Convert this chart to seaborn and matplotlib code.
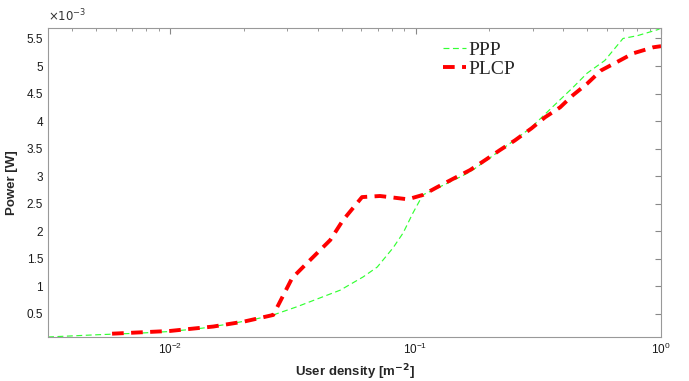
import numpy as np
import pandas as pd
import matplotlib
matplotlib.use("Agg")
import matplotlib.pyplot as plt
import matplotlib.ticker as mticker
import seaborn as sns

# user density [m^-2] and power [mW]
ppp_density = [0.00318, 0.005, 0.0075, 0.01, 0.0135, 0.0176, 0.022, 0.0263, 0.0329,
               0.0408, 0.0493, 0.0611, 0.0698, 0.081, 0.089, 0.0975, 0.107, 0.122,
               0.142, 0.167, 0.192, 0.22, 0.254, 0.297, 0.36, 0.4375, 0.50, 0.59,
               0.70, 0.80, 0.97, 1.0]
ppp_power = [0.08, 0.12, 0.15, 0.18, 0.24, 0.32, 0.40, 0.48, 0.63,
             0.79, 0.93, 1.17, 1.35, 1.70, 1.97, 2.33, 2.66, 2.78,
             2.92, 3.08, 3.27, 3.46, 3.66, 3.89, 4.25, 4.61, 4.87, 5.10,
             5.50, 5.55, 5.66, 5.69]

plcp_density = [0.0058, 0.01, 0.015, 0.02, 0.0263, 0.0314, 0.0348, 0.0449, 0.0506,
                0.0605, 0.0716, 0.093, 0.1072, 0.1224, 0.1419, 0.1666, 0.1918, 0.22,
                0.254, 0.297, 0.337, 0.388, 0.4375, 0.50, 0.57, 0.66, 0.77, 0.93, 1.0]
plcp_power = [0.14, 0.19, 0.27, 0.36, 0.48, 1.15, 1.35, 1.84, 2.2,
              2.62, 2.64, 2.58, 2.66, 2.80, 2.95, 3.11, 3.29, 3.47,
              3.65, 3.87, 4.07, 4.25, 4.47, 4.68, 4.92, 5.07, 5.23, 5.34, 5.36]

df = pd.concat([
    pd.DataFrame({"density": ppp_density, "power": np.array(ppp_power) * 1e-3, "model": "PPP"}),
    pd.DataFrame({"density": plcp_density, "power": np.array(plcp_power) * 1e-3, "model": "PLCP"}),
])

sns.set_style("white")
plt.rcParams["font.family"] = ["Liberation Sans", "DejaVu Sans"]

fig = plt.figure(figsize=(6.89, 3.81), dpi=100)
ax = fig.add_axes([0.0697, 0.1155, 0.8897, 0.811])

sns.lineplot(data=df[df.model == "PPP"], x="density", y="power", ax=ax,
             color="#33ff33", linewidth=0.85, label="PPP",
             estimator=None, sort=False)
sns.lineplot(data=df[df.model == "PLCP"], x="density", y="power", ax=ax,
             color="#ff0000", linewidth=2.8, label="PLCP",
             estimator=None, sort=False)
ax.lines[0].set_dashes([5, 3])
ax.lines[1].set_dashes([3, 1.9])

ax.set_xscale("log")
ax.set_xlim(0.00318, 1.0)
ax.set_ylim(0.08e-3, 5.69e-3)
ax.set_yticks(np.arange(0.5, 5.51, 0.5) * 1e-3)
ax.yaxis.set_major_formatter(mticker.FuncFormatter(lambda v, p: f"{v * 1e3:g}"))
ax.text(0.0, 1.012, r"$\times10^{-3}$", transform=ax.transAxes, fontsize=8.5,
        color="#333333", ha="left", va="bottom")

ax.tick_params(which="both", direction="in", top=True, right=True,
               colors="#888888", labelcolor="#1a1a1a", labelsize=8.5)
ax.tick_params(which="major", length=4)
ax.tick_params(which="minor", length=2.5)
for s in ax.spines.values():
    s.set_color("#999999")
    s.set_linewidth(0.8)

ax.set_xlabel(r"User density [m$^{\mathbf{-2}}$]", fontsize=9.5, fontweight="bold", labelpad=4)
ax.set_ylabel("Power [W]", fontsize=9.5, fontweight="bold", labelpad=6)

leg = ax.legend(loc="upper left", bbox_to_anchor=(0.645, 0.958), frameon=False,
                prop={"family": "Liberation Serif", "size": 14},
                borderpad=0, borderaxespad=0,
                handlelength=1.15, handletextpad=0.12, labelspacing=0.1)

fig.savefig("out.png", dpi=100)
